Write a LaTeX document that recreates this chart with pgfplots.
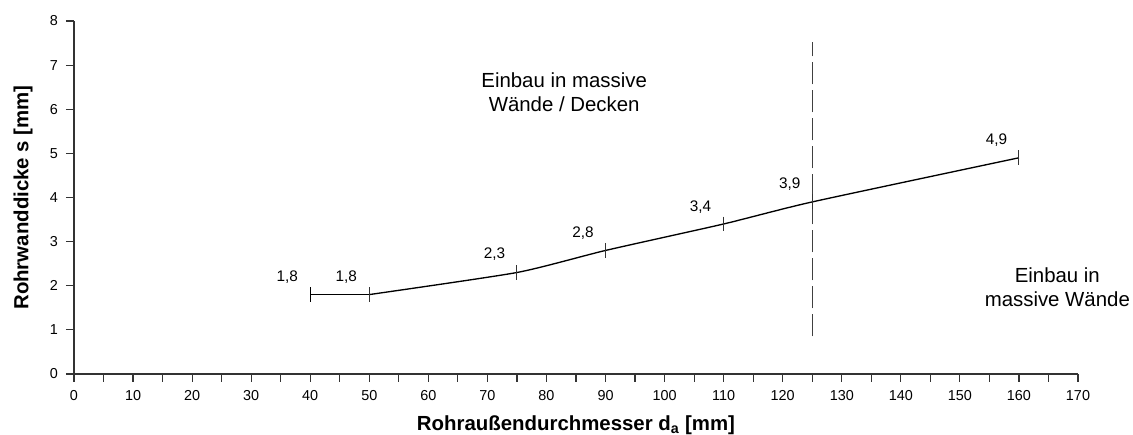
\documentclass[border=0pt]{standalone}
\usepackage{fontspec}
\setmainfont{Liberation Sans}
\usepackage{pgfplots}
\pgfplotsset{compat=1.18}
\begin{document}
\begin{tikzpicture}
\useasboundingbox (-55.5pt,-45.75pt) rectangle (794.25pt,280.5pt);
\begin{axis}[
    scale only axis,
    width=753pt, height=264.75pt,
    xmin=0, xmax=170, ymin=0, ymax=8,
    axis x line=bottom, axis y line=left,
    axis line style={-, black!80, line width=1.1pt},
    xtick={0,10,...,170},
    minor xtick={5,15,...,165},
    ytick={0,1,...,8},
    tick align=outside,
    major tick length=6pt, minor tick length=6pt,
    tick style={black!80, line width=0.9pt},
    ticklabel style={font=\fontsize{10.8}{12}\selectfont},
    /pgf/number format/assume math mode=true,
    xticklabel shift=2.5pt, yticklabel shift=2.5pt,
    xlabel={Rohraußendurchmesser d\textsubscript{a} [mm]},
    ylabel={Rohrwanddicke s [mm]},
    xlabel style={at={(axis description cs:0.5,-0.1445)}, anchor=center,
        font=\fontsize{15.3}{18}\selectfont\bfseries},
    ylabel style={at={(axis description cs:-0.0508,0.5)}, anchor=center,
        font=\fontsize{15.3}{18}\selectfont\bfseries},
    clip=false,
  ]

  % horizontal start, then the rising part
  \addplot[black, line width=1pt, mark=|, mark size=5.6pt,
    mark options={line width=0.8pt}] coordinates {
      (40,1.8) (50,1.8)
    };
  \addplot[black, line width=1pt, smooth, tension=0.35, mark=|, mark size=5.6pt,
    mark options={line width=0.8pt, black!80}] coordinates {
      (50,1.8) (75,2.3) (90,2.8) (110,3.4) (125,3.9) (160,4.9)
    };

  % border between the two areas
  \addplot[black!75, line width=1pt, dash pattern=on 17pt off 4pt] coordinates {
      (125,0.85) (125,7.53)
    };

  \node[font=\fontsize{11.5}{13}\selectfont] at (axis cs:36.1,2.2) {1,8};
  \node[font=\fontsize{11.5}{13}\selectfont] at (axis cs:46.1,2.2) {1,8};
  \node[font=\fontsize{11.5}{13}\selectfont] at (axis cs:71.2,2.72) {2,3};
  \node[font=\fontsize{11.5}{13}\selectfont] at (axis cs:86.2,3.2) {2,8};
  \node[font=\fontsize{11.5}{13}\selectfont] at (axis cs:106.1,3.78) {3,4};
  \node[font=\fontsize{11.5}{13}\selectfont] at (axis cs:121.2,4.3) {3,9};
  \node[font=\fontsize{11.5}{13}\selectfont] at (axis cs:156.2,5.3) {4,9};

  \node[align=center, font=\fontsize{15.3}{18}\selectfont] at (axis cs:83,6.39)
    {Einbau in massive\\Wände / Decken};
  \node[align=center, font=\fontsize{15.3}{18}\selectfont] at (axis cs:166.5,1.97)
    {Einbau in\\massive Wände};

\end{axis}
\end{tikzpicture}
\end{document}
